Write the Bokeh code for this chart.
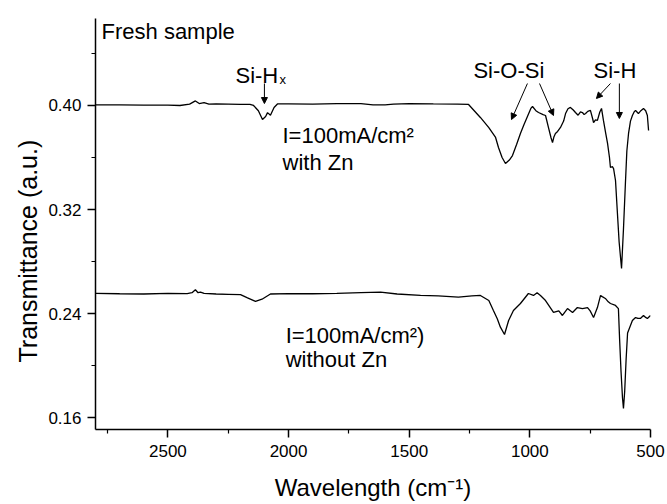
from bokeh.plotting import figure
from bokeh.models import Range1d, FixedTicker, PrintfTickFormatter, Label, Arrow, NormalHead, Title
from bokeh.embed import file_html
from bokeh.resources import INLINE

# ---- data: fresh sample, I=100 mA/cm2 with Zn ----
wn_zn = [2800, 2700, 2600, 2500, 2450, 2410, 2386, 2370, 2350, 2330, 2300, 2250, 2200, 2160,
         2145, 2125, 2108, 2095, 2087, 2075, 2060, 2046, 2000, 1900, 1800, 1700, 1650, 1600,
         1565, 1500, 1400, 1300, 1254, 1205, 1170, 1142, 1130, 1115, 1101, 1085, 1072, 1055,
         1039, 1025, 1010, 995, 989, 975, 964, 945, 935, 923, 912, 906, 900, 894, 885, 873,
         860, 852, 842, 832, 820, 811, 800, 790, 782, 775, 769, 760, 749, 740, 736, 728, 720,
         710, 703, 695, 685, 678, 670, 666, 658, 653, 645, 638, 630, 620, 612, 604, 598, 591,
         583, 575, 568, 562, 556, 550, 540, 529, 520, 513, 508]
t_zn = [0.4005, 0.4005, 0.4003, 0.4003, 0.4000, 0.4010, 0.4035, 0.4015, 0.4022, 0.4010, 0.4012,
        0.4010, 0.4008, 0.4008, 0.4000, 0.3960, 0.3892, 0.3915, 0.3945, 0.3925, 0.3985, 0.4012,
        0.4012, 0.4010, 0.4015, 0.4015, 0.4005, 0.4005, 0.4010, 0.4015, 0.4012, 0.4010, 0.4008,
        0.3908, 0.3830, 0.3754, 0.3677, 0.3600, 0.3554, 0.3580, 0.3615, 0.3700, 0.3785, 0.3850,
        0.3915, 0.3980, 0.3992, 0.3960, 0.3946, 0.3930, 0.3923, 0.3831, 0.3750, 0.3715, 0.3760,
        0.3785, 0.3800, 0.3831, 0.3880, 0.3938, 0.3975, 0.3985, 0.3965, 0.3946, 0.3925, 0.3950,
        0.3946, 0.3930, 0.3938, 0.3955, 0.3962, 0.3900, 0.3869, 0.3890, 0.3885, 0.3950, 0.3977,
        0.3885, 0.3780, 0.3708, 0.3600, 0.3523, 0.3530, 0.3515, 0.3423, 0.3200, 0.2950, 0.2746,
        0.3050, 0.3400, 0.3650, 0.3785, 0.3880, 0.3923, 0.3950, 0.3962, 0.3950, 0.3938, 0.3960,
        0.3977, 0.3960, 0.3923, 0.3808]

# ---- data: I=100 mA/cm2 without Zn ----
wn_nozn = [2800, 2700, 2600, 2500, 2420, 2400, 2386, 2375, 2365, 2350, 2300, 2250, 2199, 2170,
           2137, 2110, 2075, 2000, 1900, 1800, 1700, 1619, 1550, 1453, 1380, 1296, 1240, 1205,
           1170, 1151, 1135, 1122, 1105, 1088, 1068, 1039, 1006, 985, 970, 956, 935, 902, 880,
           865, 844, 823, 803, 782, 761, 750, 736, 720, 707, 700, 687, 675, 666, 645, 633, 628,
           622, 616, 612, 607, 601, 595, 591, 575, 562, 552, 542, 529, 520, 513, 500]
t_nozn = [0.2555, 0.2552, 0.2550, 0.2555, 0.2553, 0.2560, 0.2583, 0.2560, 0.2565, 0.2555, 0.2550,
          0.2548, 0.2545, 0.2520, 0.2493, 0.2510, 0.2550, 0.2553, 0.2552, 0.2555, 0.2560, 0.2564,
          0.2550, 0.2539, 0.2535, 0.2526, 0.2535, 0.2539, 0.2500, 0.2423, 0.2360, 0.2295, 0.2239,
          0.2346, 0.2423, 0.2477, 0.2554, 0.2539, 0.2560, 0.2539, 0.2500, 0.2408, 0.2420, 0.2385,
          0.2438, 0.2408, 0.2446, 0.2438, 0.2446, 0.2420, 0.2369, 0.2446, 0.2539, 0.2530, 0.2516,
          0.2490, 0.2477, 0.2462, 0.2438, 0.2200, 0.1950, 0.1750, 0.1670, 0.1800, 0.2050, 0.2250,
          0.2269, 0.2346, 0.2369, 0.2362, 0.2362, 0.2385, 0.2370, 0.2362, 0.2385]

x_ticks = [2500, 2000, 1500, 1000, 500]
x_minor = [2750, 2250, 1750, 1250, 750]
y_ticks = [0.16, 0.24, 0.32, 0.40]
y_minor = [0.20, 0.28, 0.36, 0.44]

FONT = "Liberation Sans"

p = figure(width=667, height=504, output_backend="svg", toolbar_location=None,
           x_range=Range1d(2800, 500), y_range=Range1d(0.1508, 0.4669),
           min_border_left=95, min_border_right=17, min_border_top=18, min_border_bottom=75)
p.outline_line_color = None
p.xgrid.visible = False
p.ygrid.visible = False
p.background_fill_color = "white"
p.border_fill_color = "white"

p.line(wn_zn, t_zn, line_color="black", line_width=1.3)
p.line(wn_nozn, t_nozn, line_color="black", line_width=1.3)

for ax in (p.xaxis, p.yaxis):
    ax.axis_line_width = 1.5
    ax.axis_line_color = "black"
    ax.major_tick_line_width = 1.5
    ax.minor_tick_line_width = 1.2
    ax.major_tick_in = 0
    ax.major_tick_out = 8
    ax.minor_tick_in = 0
    ax.minor_tick_out = 4
    ax.major_label_text_font = FONT
    ax.major_label_text_font_size = "17px"
    ax.major_label_text_color = "black"

p.xaxis.ticker = FixedTicker(ticks=x_ticks, minor_ticks=x_minor)
p.yaxis.ticker = FixedTicker(ticks=y_ticks, minor_ticks=y_minor)
p.yaxis.formatter = PrintfTickFormatter(format="%.2f")
p.xaxis.major_label_standoff = 7
p.yaxis.major_label_standoff = 6

p.xaxis.axis_label = "Wavelength (cm\u207b\u00b9)"
p.xaxis.axis_label_text_font = FONT
p.xaxis.axis_label_text_font_size = "24px"
p.xaxis.axis_label_text_font_style = "normal"
p.xaxis.axis_label_text_color = "black"
p.xaxis.axis_label_standoff = 14

# y-axis title, set off from the frame centre as in the reference
p.add_layout(Title(text="Transmittance (a.u.)", align="left", offset=67, standoff=7,
                   text_font=FONT, text_font_size="25px", text_font_style="normal",
                   text_color="black"), "left")

def lab(x, y, t, size="22px"):
    p.add_layout(Label(x=x, y=y, text=t, text_align="left", text_baseline="alphabetic",
                       text_font=FONT, text_font_size=size, text_color="black"))

lab(2775, 0.4569, "Fresh sample")
lab(2220, 0.4231, "Si-H")
lab(2037, 0.4200, "x", size="13px")
lab(1234, 0.4269, "Si-O-Si")
lab(736, 0.4269, "Si-H")
lab(2025, 0.3769, "I=100mA/cm\u00b2")
lab(2025, 0.3562, "with Zn")
lab(2012, 0.2231, "I=100mA/cm\u00b2)")
lab(2012, 0.2047, "without Zn")

arrows = [((2100, 0.4169), (2100, 0.4015)),
          ((1010, 0.4169), (1076, 0.3892)),
          ((960, 0.4169), (902, 0.3923)),
          ((666, 0.4169), (724, 0.4054)),
          ((629, 0.4169), (629, 0.3900))]
for (xs, ys), (xe, ye) in arrows:
    p.add_layout(Arrow(x_start=xs, y_start=ys, x_end=xe, y_end=ye, line_width=1, line_color="black",
                       end=NormalHead(size=6, fill_color="black", line_color="black", line_width=1)))

open("out.html", "w").write(file_html(p, INLINE))
